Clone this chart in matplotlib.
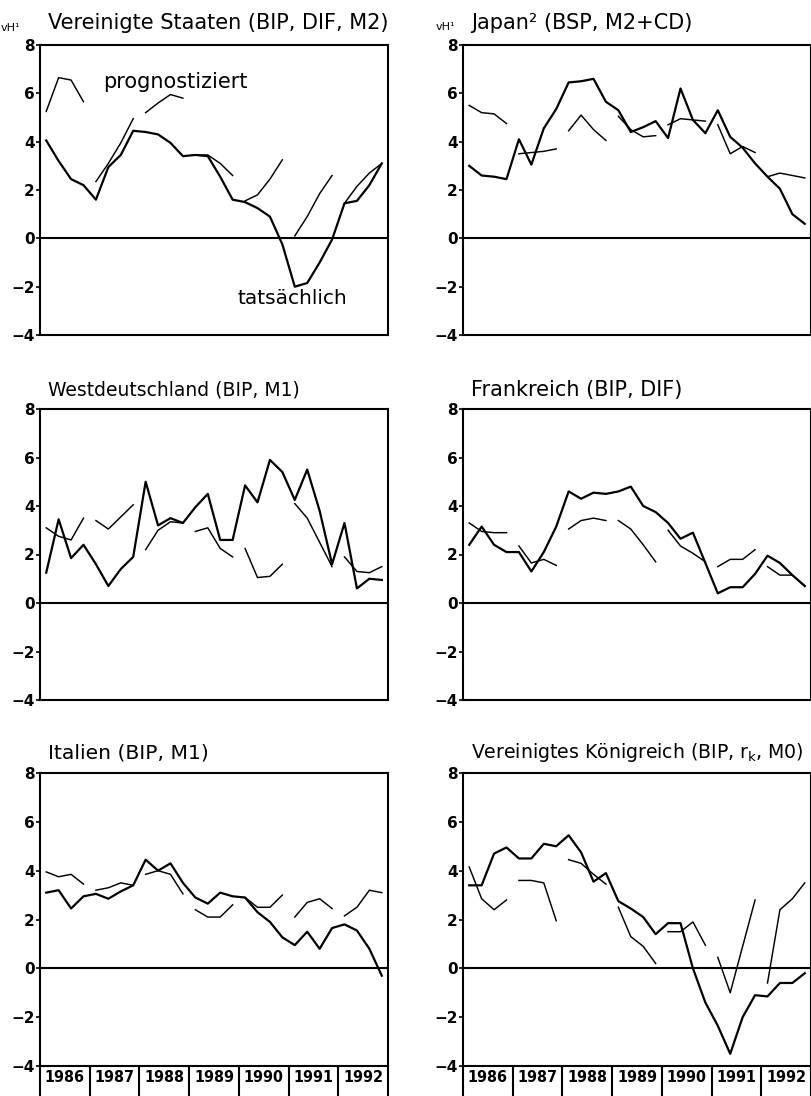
import matplotlib
matplotlib.use('Agg')
import matplotlib.pyplot as plt
import numpy as np
from matplotlib import font_manager

# quarterly growth rates 1986Q1 - 1992Q4 (vH), actual values and 4-quarter forecasts
us_actual = [4.05, 3.2, 2.45, 2.2, 1.6, 2.95, 3.45, 4.45, 4.4, 4.3, 3.95, 3.4, 3.45, 3.4,
             2.55, 1.6, 1.5, 1.25, 0.9, -0.25, -2.0, -1.85, -1.0, -0.05, 1.45, 1.55, 2.2, 3.1]
us_forecast = [[5.25, 6.65, 6.55, 5.65], [2.35, 3.1, 3.95, 4.95], [5.2, 5.6, 5.95, 5.8],
               [3.45, 3.45, 3.1, 2.6], [1.55, 1.8, 2.45, 3.25], [0.1, 0.9, 1.85, 2.6],
               [1.45, 2.15, 2.7, 3.1]]

jp_actual = [3.0, 2.6, 2.55, 2.45, 4.1, 3.05, 4.55, 5.35, 6.45, 6.5, 6.6, 5.65, 5.3, 4.4,
             4.6, 4.85, 4.15, 6.2, 4.9, 4.35, 5.3, 4.2, 3.75, 3.1, 2.55, 2.05, 1.0, 0.6]
jp_forecast = [[5.5, 5.2, 5.15, 4.75], [3.5, 3.55, 3.6, 3.7], [4.45, 5.1, 4.5, 4.05],
               [5.05, 4.5, 4.2, 4.25], [4.7, 4.95, 4.9, 4.85], [4.7, 3.5, 3.8, 3.55],
               [2.55, 2.7, 2.6, 2.5]]

de_actual = [1.25, 3.45, 1.85, 2.4, 1.6, 0.7, 1.4, 1.9, 5.0, 3.2, 3.5, 3.3, 3.95, 4.5,
             2.6, 2.6, 4.85, 4.15, 5.9, 5.4, 4.25, 5.5, 3.8, 1.6, 3.3, 0.6, 1.0, 0.95]
de_forecast = [[3.1, 2.75, 2.6, 3.5], [3.4, 3.05, 3.55, 4.05], [2.2, 3.0, 3.35, 3.3],
               [2.95, 3.1, 2.25, 1.9], [2.25, 1.05, 1.1, 1.6], [4.1, 3.5, 2.5, 1.5],
               [1.9, 1.3, 1.25, 1.5]]

fr_actual = [2.4, 3.15, 2.4, 2.1, 2.1, 1.3, 2.1, 3.15, 4.6, 4.3, 4.55, 4.5, 4.6, 4.8,
             4.0, 3.75, 3.3, 2.65, 2.9, 1.65, 0.4, 0.65, 0.65, 1.2, 1.95, 1.65, 1.15, 0.7]
fr_forecast = [[3.3, 2.95, 2.9, 2.9], [2.35, 1.65, 1.8, 1.55], [3.05, 3.4, 3.5, 3.4],
               [3.4, 3.05, 2.4, 1.7], [3.0, 2.35, 2.05, 1.7], [1.5, 1.8, 1.8, 2.2],
               [1.5, 1.15, 1.15, 0.7]]

it_actual = [3.1, 3.2, 2.45, 2.95, 3.05, 2.85, 3.15, 3.4, 4.45, 4.0, 4.3, 3.5, 2.9, 2.65,
             3.1, 2.95, 2.9, 2.3, 1.9, 1.27, 0.95, 1.5, 0.8, 1.65, 1.8, 1.55, 0.8, -0.3]
it_forecast = [[3.95, 3.75, 3.85, 3.45], [3.2, 3.3, 3.5, 3.4], [3.85, 4.0, 3.85, 3.05],
               [2.4, 2.1, 2.1, 2.6], [2.9, 2.5, 2.5, 3.0], [2.1, 2.7, 2.85, 2.45],
               [2.15, 2.5, 3.2, 3.1]]

uk_actual = [3.4, 3.4, 4.7, 4.95, 4.5, 4.5, 5.1, 5.0, 5.45, 4.75, 3.55, 3.9, 2.75, 2.45,
             2.1, 1.4, 1.85, 1.85, 0.0, -1.4, -2.35, -3.5, -2.0, -1.1, -1.15, -0.6, -0.6, -0.2]
uk_forecast = [[4.15, 2.85, 2.4, 2.8], [3.6, 3.6, 3.5, 1.95], [4.45, 4.3, 3.85, 3.45],
               [2.5, 1.3, 0.9, 0.2], [1.5, 1.5, 1.9, 0.95], [0.45, -1.0, 0.9, 2.8],
               [-0.6, 2.4, 2.85, 3.5]]

titles = ['Vereinigte Staaten (BIP, DIF, M2)', 'Japan\u00b2 (BSP, M2+CD)',
          'Westdeutschland (BIP, M1)', 'Frankreich (BIP, DIF)',
          'Italien (BIP, M1)', 'Vereinigtes K\u00f6nigreich (BIP, r$_\\mathregular{k}$, M0)']
title_sizes = [15, 15, 13.5, 15, 14.6, 13.6]
years = ['1986', '1987', '1988', '1989', '1990', '1991', '1992']

actuals = [us_actual, jp_actual, de_actual, fr_actual, it_actual, uk_actual]
forecasts = [us_forecast, jp_forecast, de_forecast, fr_forecast, it_forecast, uk_forecast]

quarters = 1986 + (np.arange(28) + 0.5) / 4

names = {f.name for f in font_manager.fontManager.ttflist}
if 'Liberation Sans Narrow' in names:
    year_font, year_size, year_stretch = 'Liberation Sans Narrow', 13.5, 'normal'
else:
    year_font, year_size, year_stretch = 'DejaVu Sans', 11.5, 'condensed'

W, H = 812, 1096
fig = plt.figure(figsize=(W / 100, H / 100), dpi=100)

lefts = [40, 463]
rows = [(45, 335), (409, 700), (773, 1066)]
title_dy = [15.5, 13.5, 14.5]

for k in range(6):
    r, c = divmod(k, 2)
    top, bot = rows[r]
    ax = fig.add_axes([lefts[c] / W, 1 - bot / H, 348 / W, (bot - top) / H])
    ax.set_xlim(1986, 1993)
    ax.set_ylim(-4, 8)

    ax.plot(quarters, actuals[k], color='black', lw=1.6)
    for j, seg in enumerate(forecasts[k]):
        ax.plot(quarters[4 * j:4 * j + 4], seg, color='black', lw=1.05)
    ax.axhline(0, color='black', lw=1.5)

    for s in ax.spines.values():
        s.set_linewidth(1.5)
    ax.set_yticks(range(-4, 9, 2))
    ax.set_yticklabels([str(v).replace('-', '\u2212') for v in range(-4, 9, 2)],
                       fontsize=11, fontweight='bold')
    ax.tick_params(axis='y', length=3, width=1.2, pad=1)

    if r < 2:
        ax.tick_params(axis='x', which='both', length=0, labelbottom=False)
    else:
        ax.set_xticks(np.arange(1986, 1994))
        ax.set_xticklabels([])
        ax.set_xticks(np.arange(1986, 1993) + 0.5, minor=True)
        ax.set_xticklabels(years, minor=True, fontsize=year_size, fontweight='bold',
                           family=year_font, fontstretch=year_stretch)
        ax.tick_params(axis='x', which='major', length=30, width=1.5)
        ax.tick_params(axis='x', which='minor', length=0, pad=3)

    ax.annotate(titles[k], xy=(0, 1), xycoords='axes fraction',
                xytext=(5.5, title_dy[r]), textcoords='offset points',
                ha='left', va='center', fontsize=title_sizes[k])

    if k == 0:
        ax.annotate('vH\u00b9', xy=(0, 1), xycoords='axes fraction', xytext=(-21, 12),
                    textcoords='offset points', ha='center', va='center', fontsize=8)
        ax.text(1987.27, 6.47, 'prognostiziert', fontsize=15, va='center')
        ax.text(1989.98, -2.51, 'tats\u00e4chlich', fontsize=14.5, va='center')
    if k == 1:
        ax.annotate('vH\u00b9', xy=(0, 1), xycoords='axes fraction', xytext=(-13, 13),
                    textcoords='offset points', ha='center', va='center', fontsize=8)

fig.savefig('out.png', dpi=100)
